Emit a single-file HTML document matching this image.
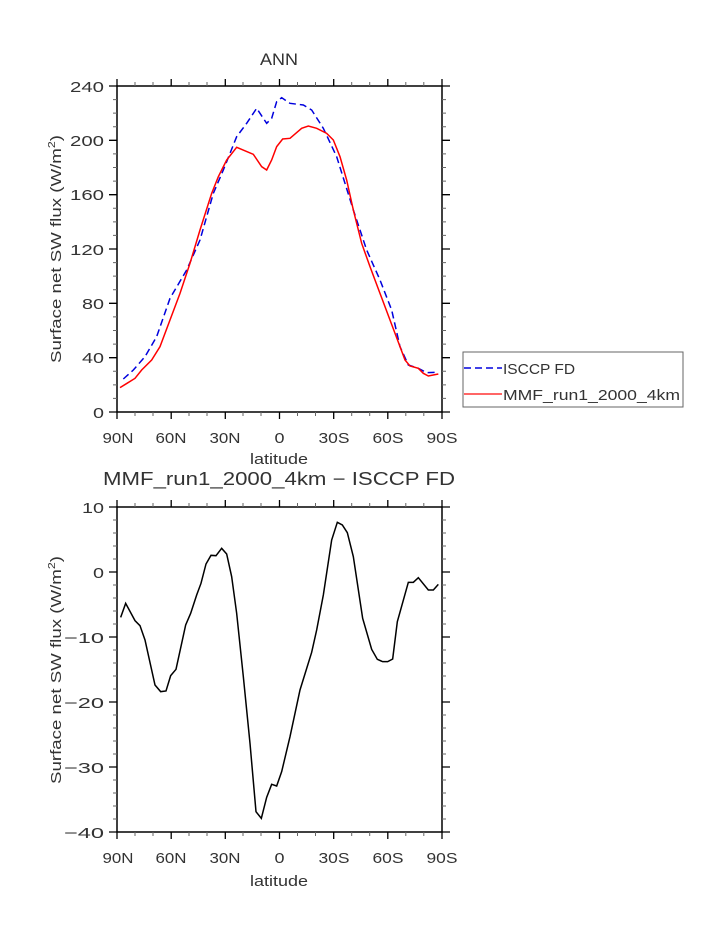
<!DOCTYPE html>
<html><head><meta charset="utf-8"><style>
html,body{margin:0;padding:0;background:#fff}
svg{display:block}
text{font-family:"Liberation Sans",sans-serif;fill:#333}
</style></head><body>
<svg width="723" height="935" viewBox="0 0 723 935" xmlns="http://www.w3.org/2000/svg">
<!-- TOP PANEL -->
<text x="279" y="65" font-size="17" text-anchor="middle" textLength="38" lengthAdjust="spacingAndGlyphs">ANN</text>
<rect x="117" y="86" width="325" height="326" fill="none" stroke="#000" stroke-width="1.5"/>
<g stroke="#000" stroke-width="1.3">
<path d="M117,412v7M171.2,412v7M225.3,412v7M279.5,412v7M333.7,412v7M387.8,412v7M442,412v7M117,86v-7M171.2,86v-7M225.3,86v-7M279.5,86v-7M333.7,86v-7M387.8,86v-7M442,86v-7"/>
<path stroke-width="1" stroke="#666" d="M135,412v4M153,412v4M189,412v4M207,412v4M243,412v4M261,412v4M297.5,412v4M315.5,412v4M351.7,412v4M369.7,412v4M405.8,412v4M423.8,412v4M135,86v-4M153,86v-4M189,86v-4M207,86v-4M243,86v-4M261,86v-4M297.5,86v-4M315.5,86v-4M351.7,86v-4M369.7,86v-4M405.8,86v-4M423.8,86v-4"/>
<path d="M117,412h-8M117,357.7h-8M117,303.3h-8M117,249h-8M117,194.7h-8M117,140.3h-8M117,86h-8M442,412h8M442,357.7h8M442,303.3h8M442,249h8M442,194.7h8M442,140.3h8M442,86h8"/>
</g>
<g stroke="#666" stroke-width="1" id="ym1"></g>
<g font-size="15" text-anchor="end" lengthAdjust="spacingAndGlyphs">
<text x="104" y="418" textLength="11" lengthAdjust="spacingAndGlyphs">0</text><text x="104" y="363" textLength="22" lengthAdjust="spacingAndGlyphs">40</text><text x="104" y="309" textLength="22" lengthAdjust="spacingAndGlyphs">80</text><text x="104" y="255" textLength="34" lengthAdjust="spacingAndGlyphs">120</text><text x="104" y="200" textLength="34" lengthAdjust="spacingAndGlyphs">160</text><text x="104" y="146" textLength="34" lengthAdjust="spacingAndGlyphs">200</text><text x="104" y="92" textLength="34" lengthAdjust="spacingAndGlyphs">240</text>
</g>
<g font-size="15" text-anchor="middle">
<text x="118" y="443" textLength="31" lengthAdjust="spacingAndGlyphs">90N</text><text x="171" y="443" textLength="31" lengthAdjust="spacingAndGlyphs">60N</text><text x="225" y="443" textLength="31" lengthAdjust="spacingAndGlyphs">30N</text><text x="279.5" y="443" textLength="10" lengthAdjust="spacingAndGlyphs">0</text><text x="334" y="443" textLength="31" lengthAdjust="spacingAndGlyphs">30S</text><text x="388" y="443" textLength="31" lengthAdjust="spacingAndGlyphs">60S</text><text x="442" y="443" textLength="31" lengthAdjust="spacingAndGlyphs">90S</text>
</g>
<text x="279" y="464" font-size="15" text-anchor="middle" textLength="58" lengthAdjust="spacingAndGlyphs">latitude</text>
<text transform="translate(61,249) rotate(-90)" font-size="15" text-anchor="middle" textLength="228" lengthAdjust="spacingAndGlyphs">Surface net SW flux (W/m<tspan font-size="10" dy="-6">2</tspan><tspan dy="6">)</tspan></text>
<g transform="translate(90,60) scale(0.33333)" fill="none">
<polyline vector-effect="non-scaling-stroke" stroke="#0000dd" stroke-width="1.5" stroke-dasharray="7,4" points="100,957 130,930 165,890 200,830 240,715 290,630 330,540 370,400 400,330 440,230 470,190 500,145 530,190 545,175 560,125 575,113 600,130 640,135 665,150 700,205 740,290 790,450 830,570 870,660 905,750 930,860 955,915 985,925 1010,938 1045,937"/>
<polyline vector-effect="non-scaling-stroke" stroke="#ff0000" stroke-width="1.5" points="90,983 135,955 155,930 185,900 210,860 240,780 270,700 300,610 330,510 365,400 385,350 410,300 440,262 490,283 515,320 530,330 545,300 560,260 578,237 600,235 635,205 655,198 680,205 710,220 730,240 750,290 770,360 790,450 815,550 840,620 870,700 900,780 930,860 945,900 960,918 985,925 1000,940 1015,948 1045,942"/>
</g>
<!-- legend -->
<rect x="463" y="352" width="220" height="55" fill="#fff" stroke="#666" stroke-width="1"/>
<line x1="464" y1="368" x2="502" y2="368" stroke="#0000dd" stroke-width="1.5" stroke-dasharray="7,4"/>
<line x1="464" y1="394" x2="502" y2="394" stroke="#ff3333" stroke-width="1.5"/>
<text x="503" y="374" font-size="15" textLength="72" lengthAdjust="spacingAndGlyphs">ISCCP FD</text>
<text x="503" y="400" font-size="15" textLength="177" lengthAdjust="spacingAndGlyphs">MMF_run1_2000_4km</text>

<!-- BOTTOM PANEL -->
<text x="279" y="485" font-size="18" text-anchor="middle" textLength="352" lengthAdjust="spacingAndGlyphs">MMF_run1_2000_4km − ISCCP FD</text>
<rect x="117" y="507" width="325" height="325" fill="none" stroke="#000" stroke-width="1.5"/>
<g stroke="#000" stroke-width="1.3">
<path d="M117,832v7M171.2,832v7M225.3,832v7M279.5,832v7M333.7,832v7M387.8,832v7M442,832v7M117,507v-7M171.2,507v-7M225.3,507v-7M279.5,507v-7M333.7,507v-7M387.8,507v-7M442,507v-7"/>
<path stroke-width="1" stroke="#666" d="M135,832v4M153,832v4M189,832v4M207,832v4M243,832v4M261,832v4M297.5,832v4M315.5,832v4M351.7,832v4M369.7,832v4M405.8,832v4M423.8,832v4M135,507v-4M153,507v-4M189,507v-4M207,507v-4M243,507v-4M261,507v-4M297.5,507v-4M315.5,507v-4M351.7,507v-4M369.7,507v-4M405.8,507v-4M423.8,507v-4"/>
<path d="M117,507h-8M117,572h-8M117,637h-8M117,702h-8M117,767h-8M117,832h-8M442,507h8M442,572h8M442,637h8M442,702h8M442,767h8M442,832h8"/>
</g>
<g stroke="#666" stroke-width="1" id="ym2"></g>
<g font-size="15" text-anchor="end">
<text x="104" y="513" textLength="22" lengthAdjust="spacingAndGlyphs">10</text><text x="104" y="578" textLength="11" lengthAdjust="spacingAndGlyphs">0</text><text x="104" y="643" textLength="40" lengthAdjust="spacingAndGlyphs">−10</text><text x="104" y="708" textLength="40" lengthAdjust="spacingAndGlyphs">−20</text><text x="104" y="773" textLength="40" lengthAdjust="spacingAndGlyphs">−30</text><text x="104" y="838" textLength="40" lengthAdjust="spacingAndGlyphs">−40</text>
</g>
<g font-size="15" text-anchor="middle">
<text x="118" y="863" textLength="31" lengthAdjust="spacingAndGlyphs">90N</text><text x="171" y="863" textLength="31" lengthAdjust="spacingAndGlyphs">60N</text><text x="225" y="863" textLength="31" lengthAdjust="spacingAndGlyphs">30N</text><text x="279.5" y="863" textLength="10" lengthAdjust="spacingAndGlyphs">0</text><text x="334" y="863" textLength="31" lengthAdjust="spacingAndGlyphs">30S</text><text x="388" y="863" textLength="31" lengthAdjust="spacingAndGlyphs">60S</text><text x="442" y="863" textLength="31" lengthAdjust="spacingAndGlyphs">90S</text>
</g>
<text x="279" y="886" font-size="15" text-anchor="middle" textLength="58" lengthAdjust="spacingAndGlyphs">latitude</text>
<text transform="translate(61,670) rotate(-90)" font-size="15" text-anchor="middle" textLength="228" lengthAdjust="spacingAndGlyphs">Surface net SW flux (W/m<tspan font-size="10" dy="-6">2</tspan><tspan dy="6">)</tspan></text>
<g transform="translate(90,490) scale(0.33333)" fill="none">
<polyline vector-effect="non-scaling-stroke" stroke="#000" stroke-width="1.5" points="92,382 107,340 135,392 150,407 165,450 195,585 212,605 228,603 242,557 258,538 287,405 302,370 320,315 333,280 348,222 363,196 378,197 395,175 410,192 425,260 440,370 460,560 480,760 498,965 514,985 530,922 545,883 560,888 575,845 600,740 630,600 665,487 680,420 700,315 725,150 742,97 757,105 772,128 790,200 818,385 845,478 862,508 878,515 893,515 908,507 922,395 955,277 970,277 985,263 1015,300 1030,300 1045,283"/>
</g>
<script>
(function(){
 var ns="http://www.w3.org/2000/svg";
 function add(id,d){var p=document.createElementNS(ns,"path");p.setAttribute("d",d);document.getElementById(id).appendChild(p);}
 var d="";
 for(var v=0;v<=240;v+=10){if(v%40==0)continue;var y=412-v*326/240;d+="M117,"+y+"h-4M442,"+y+"h4";}
 add("ym1",d);
 d="";
 for(var v=-40;v<=10;v+=2){if(v%10==0)continue;var y=572-v*6.5;d+="M117,"+y+"h-4M442,"+y+"h4";}
 add("ym2",d);
})();
</script>
</svg>
</body></html>
